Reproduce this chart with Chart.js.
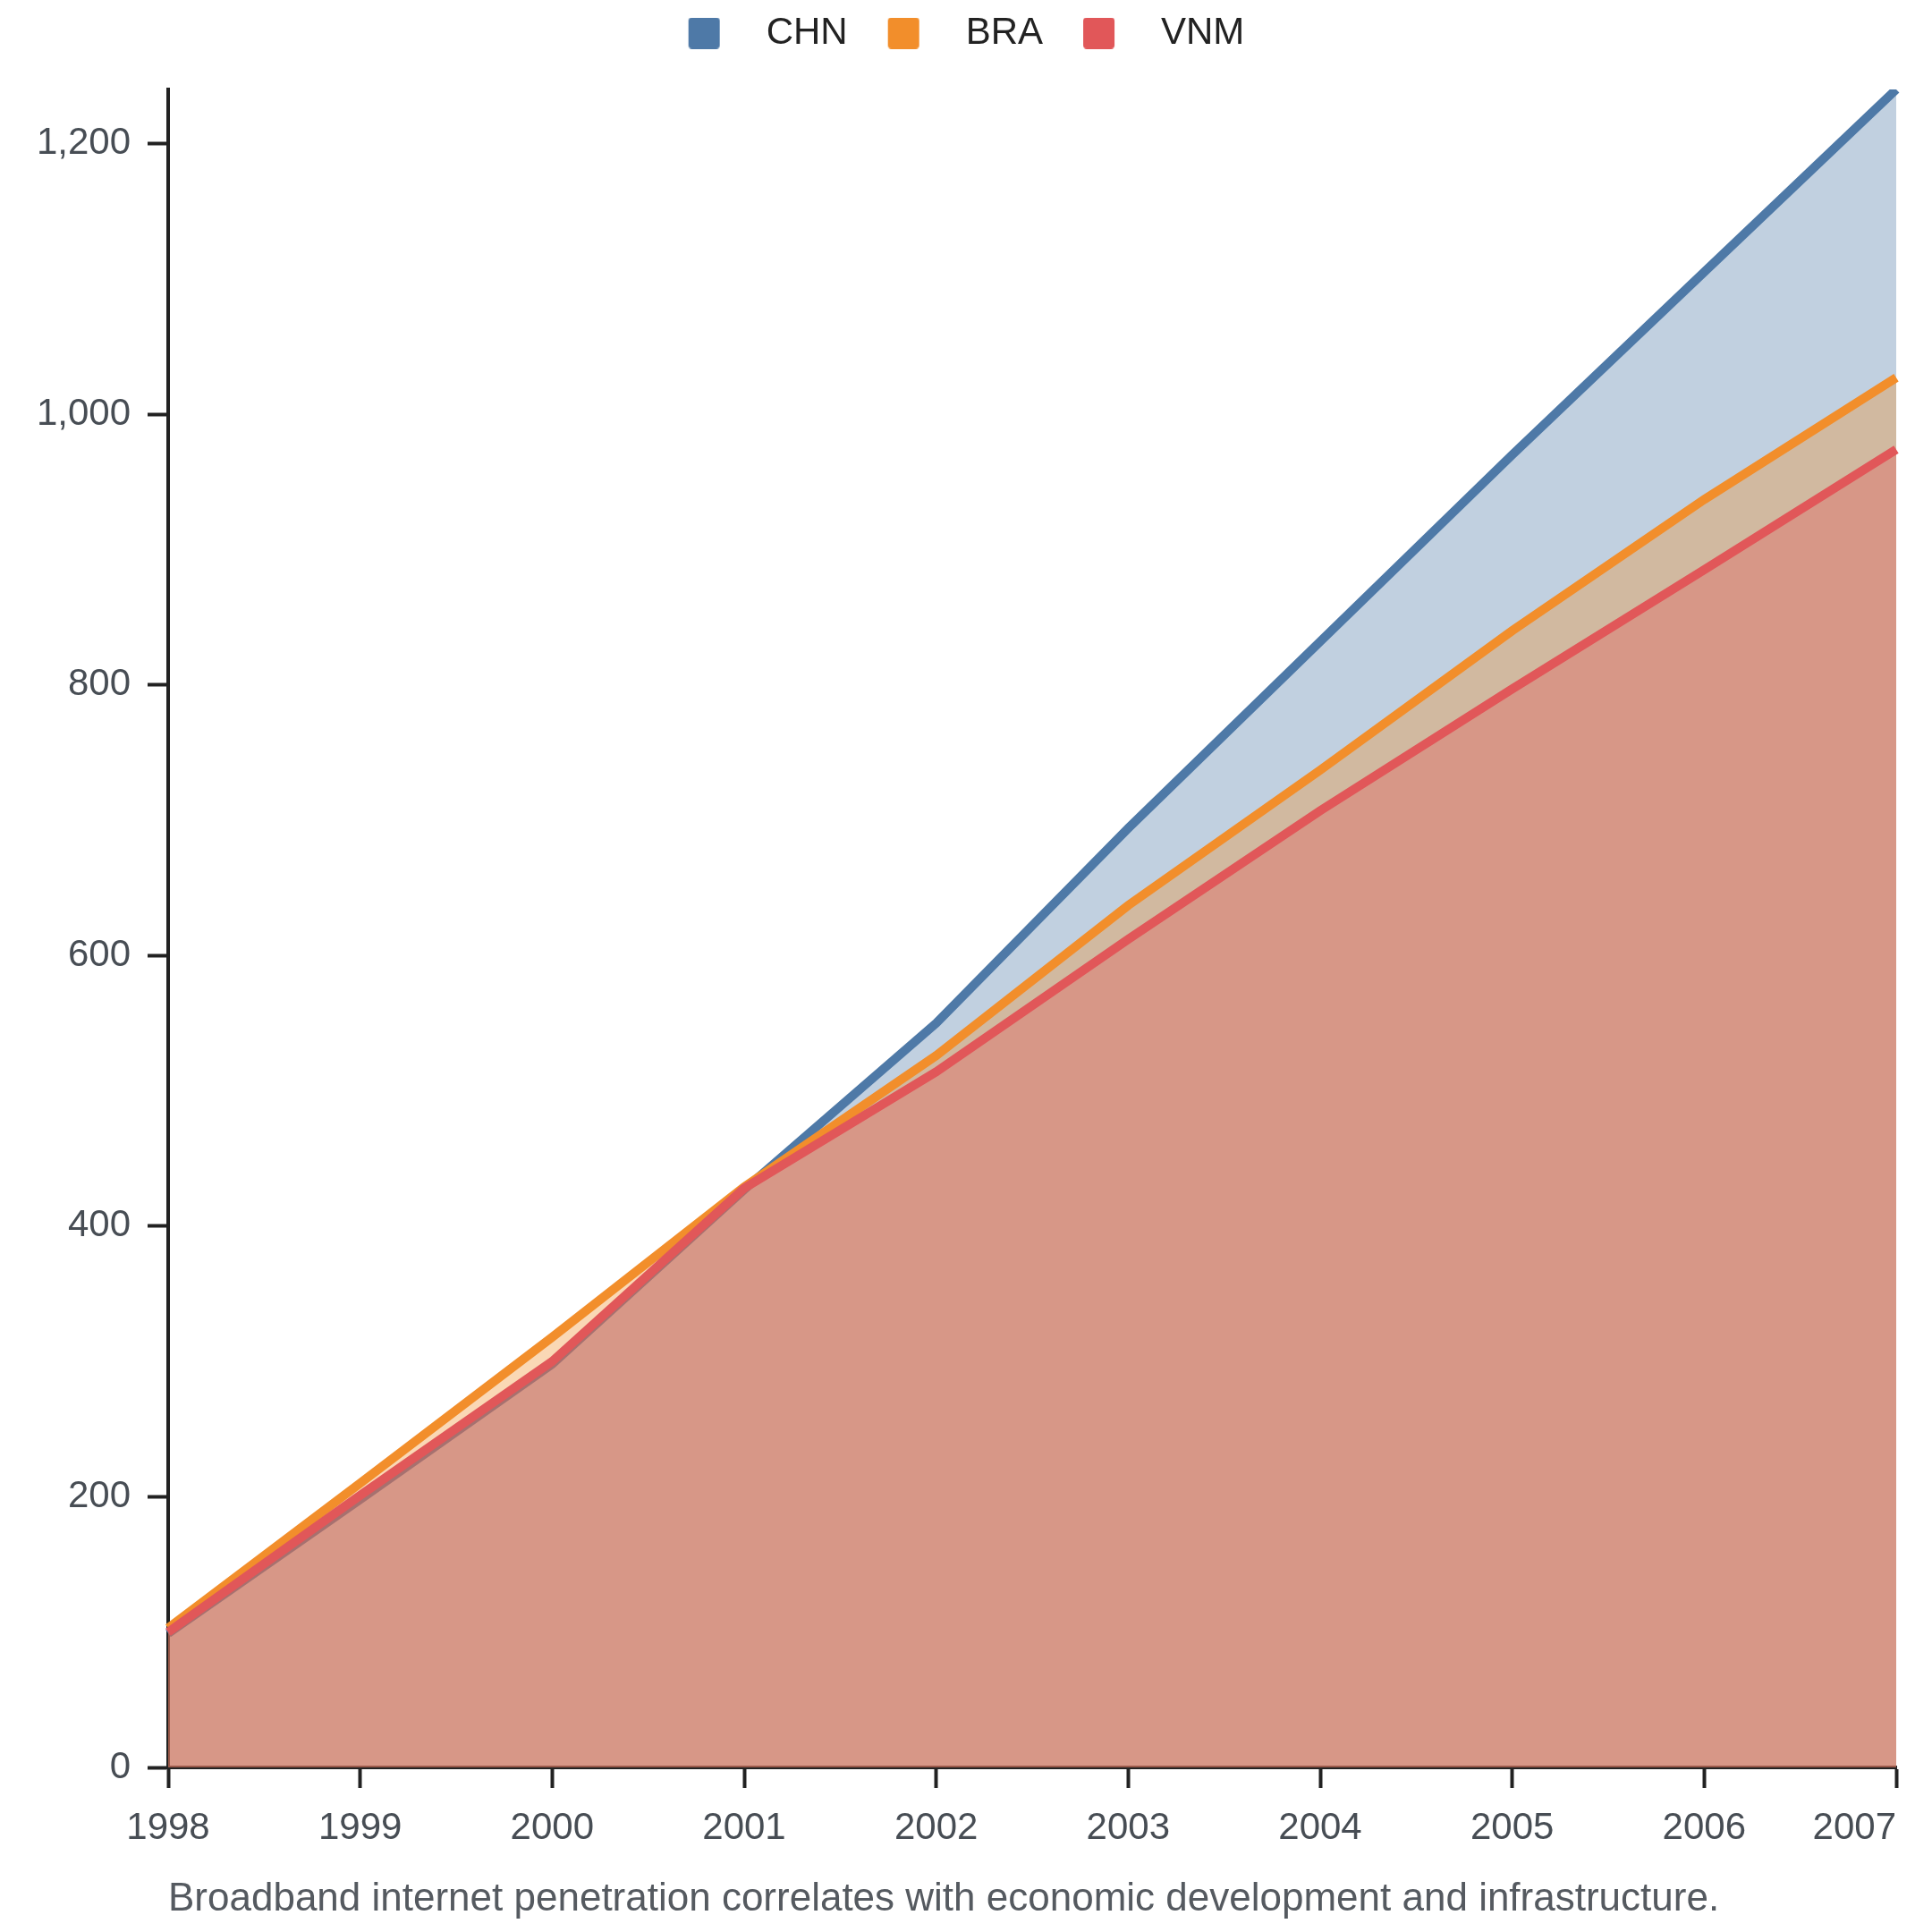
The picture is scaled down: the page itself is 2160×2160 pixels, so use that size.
<!DOCTYPE html>
<html>
<head>
<meta charset="utf-8">
<script src="https://cdn.jsdelivr.net/npm/chart.js@4/dist/chart.umd.min.js"></script>
<style>
  html, body { margin: 0; padding: 0; background: #ffffff; }
  canvas { display: block; }
</style>
</head>
<body>
<canvas id="c" width="2160" height="2160"></canvas>
<script>
// ---- data ----
const years = ['1998', '1999', '2000', '2001', '2002', '2003', '2004', '2005', '2006', '2007'];
const seriesNames = ['CHN', 'BRA', 'VNM'];
const chn = [99, 198, 298, 427, 550, 694, 832, 970, 1105, 1240];
const bra = [103, 210, 318, 429, 526, 637, 737, 840, 937, 1027];
const vnm = [100, 201, 300, 428, 514, 612, 707, 797, 885, 974];
const yTicks = [0, 200, 400, 600, 800, 1000, 1200];
const yMax = 1240;
const caption = 'Broadband internet penetration correlates with economic development and infrastructure.';

// ---- styles ----
const lineColors = ['#4e79a7', '#f28e2b', '#e15759'];
const fillColors = ['rgba(78,121,167,0.35)', 'rgba(242,142,43,0.35)', 'rgba(225,87,89,0.35)'];
const drawOrder = [2, 1, 0]; // CHN drawn first (bottom), VNM last (top)
const tickColor = '#474d54';
const axisColor = '#222222';

Chart.defaults.font.family = '"Liberation Sans", Arial, Helvetica, sans-serif';

// legend swatch: transparent left margin (item spacing) + 35px rounded square
function legendSwatch(color) {
  const c = document.createElement('canvas');
  c.width = 95; c.height = 35;
  const g = c.getContext('2d');
  g.fillStyle = color;
  g.beginPath();
  if (g.roundRect) { g.roundRect(29, 0, 35, 35, 4); } else { g.rect(29, 0, 35, 35); }
  g.fill();
  return c;
}
const swatches = lineColors.map(legendSwatch);

const lastLabelRight = {
  id: 'lastLabelRight',
  beforeDraw(chart) {
    const s = chart.scales.x;
    const items = s.getLabelItems();
    if (items.length) items[items.length - 1].options.textAlign = 'right';
  }
};

const values = [chn, bra, vnm];
const datasets = seriesNames.map((name, i) => ({
  label: name,
  data: values[i],
  borderColor: lineColors[i],
  backgroundColor: fillColors[i],
  fill: 'origin',
  borderWidth: 10,
  pointRadius: 0,
  pointHoverRadius: 0,
  tension: 0,
  order: drawOrder[i]
}));

const tickFont = { size: 42 };

new Chart(document.getElementById('c'), {
  type: 'line',
  data: { labels: years, datasets },
  plugins: [lastLabelRight],
  options: {
    responsive: false,
    devicePixelRatio: 1,
    animation: false,
    layout: { padding: { top: 0, left: 0, right: 28, bottom: 0 } },
    plugins: {
      tooltip: { enabled: false },
      legend: {
        display: true,
        position: 'top',
        align: 'center',
        labels: {
          usePointStyle: true,
          pointStyleWidth: 95,
          padding: 16,
          color: '#222222',
          font: { size: 42 },
          generateLabels(chart) {
            const items = Chart.defaults.plugins.legend.labels.generateLabels(chart);
            items.forEach(it => { it.pointStyle = swatches[it.datasetIndex]; });
            items.sort((a, b) => a.datasetIndex - b.datasetIndex);
            return items;
          }
        }
      },
      title: {
        display: true,
        text: caption,
        position: 'bottom',
        align: 'start',
        fullSize: false,
        color: '#555a60',
        font: { size: 44, weight: 'normal' },
        padding: { top: 21.6, bottom: 9.6 }
      }
    },
    scales: {
      x: {
        type: 'category',
        offset: false,
        z: 1,
        grid: { display: true, drawOnChartArea: false, drawTicks: true, tickLength: 23, tickWidth: 4, tickColor: axisColor },
        border: { display: true, color: axisColor, width: 4 },
        ticks: { color: tickColor, font: tickFont, padding: 20, maxRotation: 0, autoSkip: false },
        afterFit(s) { s.paddingLeft = 0; s.paddingRight = 40; s.height = 100; }
      },
      gap: {
        type: 'category',
        position: 'top',
        display: true,
        offset: false,
        grid: { display: false },
        border: { display: false },
        ticks: { display: false },
        afterFit(s) { s.paddingLeft = 0; s.paddingRight = 0; s.paddingTop = 0; s.paddingBottom = 0; s.height = 32; }
      },
      y: {
        min: 0,
        max: yMax,
        z: 1,
        grid: { display: true, drawOnChartArea: false, drawTicks: true, tickLength: 23, tickWidth: 4, tickColor: axisColor },
        border: { display: true, color: axisColor, width: 4 },
        ticks: { color: tickColor, font: tickFont, padding: 19 },
        afterBuildTicks(s) { s.ticks = yTicks.map(v => ({ value: v })); },
        afterFit(s) { s.width = 188; s.paddingTop = 0; s.paddingBottom = 0; }
      }
    }
  }
});
</script>
</body>
</html>
